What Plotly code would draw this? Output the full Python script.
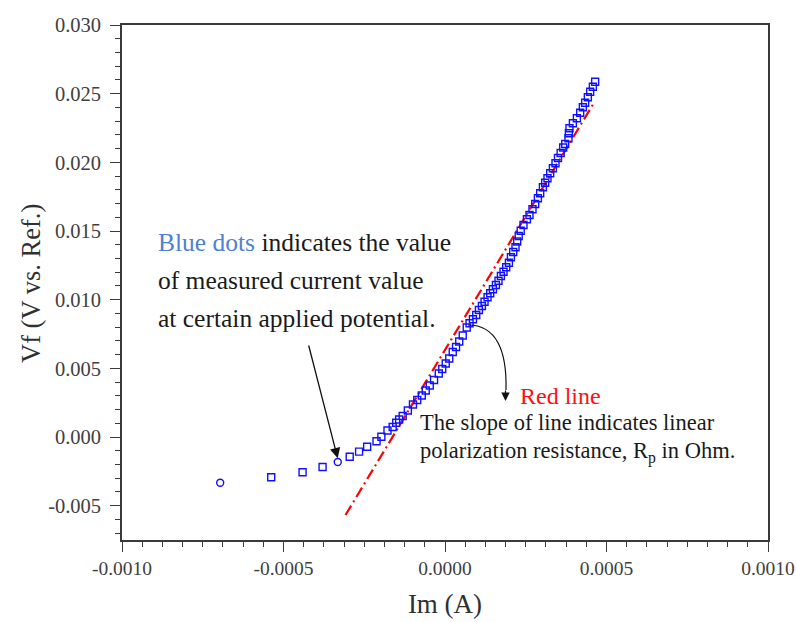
import plotly.graph_objects as go

# ---- data ----
im_a = [-0.000696, -0.000538, -0.000441, -0.000379, -0.000332, -0.000295, -0.000266, -0.000241,
        -0.000212, -0.000197, -0.000178, -0.000162, -0.000151, -0.000142, -0.000131, -0.000115,
        -0.0000992, -0.0000859, -0.0000719, -0.0000596, -0.0000472, -0.0000339, -0.0000193, -0.0000085,
        0.0000023, 0.0000132, 0.0000240, 0.0000342, 0.0000441, 0.0000549, 0.0000673, 0.0000760,
        0.0000865, 0.0000967, 0.0001050, 0.0001143, 0.0001224, 0.0001317, 0.0001400, 0.0001484,
        0.0001576, 0.0001657, 0.0001731, 0.0001812, 0.0001895, 0.0001979, 0.0002041, 0.0002112,
        0.0002183, 0.0002235, 0.0002282, 0.0002344, 0.0002430, 0.0002536, 0.0002616, 0.0002709,
        0.0002792, 0.0002876, 0.0002947, 0.0003031, 0.0003102, 0.0003173, 0.0003257, 0.0003340,
        0.0003421, 0.0003498, 0.0003581, 0.0003659, 0.0003721, 0.0003823, 0.0003835, 0.0003854,
        0.0003959, 0.0004083, 0.0004185, 0.0004268, 0.0004339, 0.0004423, 0.0004494, 0.0004578,
        0.0004649]
vf_v = [-0.003328, -0.002934, -0.002570, -0.002184, -0.001820, -0.001442, -0.001063, -0.000706,
        -0.000306, 0.000022, 0.000473, 0.000728, 0.001041, 0.001274, 0.001529, 0.001930,
        0.002366, 0.002694, 0.003022, 0.003386, 0.003750, 0.004150, 0.004624, 0.004951,
        0.005352, 0.005716, 0.006189, 0.006553, 0.006954, 0.007390, 0.007973, 0.008279,
        0.008570, 0.008883, 0.009247, 0.009538, 0.009852, 0.010172, 0.010463, 0.010754,
        0.011067, 0.011381, 0.011723, 0.012036, 0.012356, 0.012691, 0.013084, 0.013470,
        0.013813, 0.014235, 0.014635, 0.015021, 0.015436, 0.015851, 0.016164, 0.016579,
        0.016965, 0.017380, 0.017744, 0.018181, 0.018516, 0.018837, 0.019201, 0.019565,
        0.019929, 0.020315, 0.020679, 0.021079, 0.021334, 0.021749, 0.022113, 0.022477,
        0.022841, 0.023205, 0.023613, 0.024006, 0.024341, 0.024734, 0.025142, 0.025506,
        0.025870]
circle_idx = [0, 4]

fit_x = [-0.000308, 0.000460]
fit_y = [-0.00568, 0.02429]

x_tickvals = [-0.0010, -0.0005, 0.0, 0.0005, 0.0010]
x_ticktext = ["-0.0010", "-0.0005", "0.0000", "0.0005", "0.0010"]
y_tickvals = [-0.005, 0.0, 0.005, 0.010, 0.015, 0.020, 0.025, 0.030]
y_ticktext = ["-0.005", "0.000", "0.005", "0.010", "0.015", "0.020", "0.025", "0.030"]

# ---- layout geometry ----
W, H = 796, 622
ML, MR, MT, MB = 122, 28, 25, 82
PW, PH = W - ML - MR, H - MT - MB
FONT = "Liberation Serif"
AX = "#3a3a3a"


def px2paper(px, py):
    return (px - ML) / PW, (H - MB - py) / PH


symbols = ["circle-open" if i in circle_idx else "square-open" for i in range(len(im_a))]

fig = go.Figure()
fig.add_trace(go.Scatter(
    x=fit_x, y=fit_y, mode="lines",
    line=dict(color="#ff0000", width=2.2, dash="11px,4px,2px,4px"),
    showlegend=False, hoverinfo="skip"))
fig.add_trace(go.Scatter(
    x=im_a, y=vf_v, mode="markers",
    marker=dict(symbol=symbols, size=7, color="#1010ff", line=dict(color="#1010ff", width=1.4)),
    showlegend=False))

axis_common = dict(
    showline=True, linecolor=AX, linewidth=1.6, mirror=True,
    ticks="outside", tickcolor=AX, tickwidth=1.3,
    showgrid=False, zeroline=False, automargin=True,
    ticklabeloverflow="allow",
)
fig.update_xaxes(
    range=[-0.0010, 0.0010], tickvals=x_tickvals, ticktext=x_ticktext, ticklen=10,
    tickfont=dict(family=FONT, size=19.5, color="#404040"),
    minor=dict(dtick=0.0000625, tick0=-0.001, ticks="outside", ticklen=5, tickcolor=AX, tickwidth=1.2),
    title=dict(text="Im (A)", font=dict(family=FONT, size=27, color="#303030"), standoff=16),
    **axis_common)
fig.update_yaxes(
    range=[-0.0075, 0.030], tickvals=y_tickvals, ticktext=y_ticktext, ticklen=10,
    tickfont=dict(family=FONT, size=20.5, color="#404040"), ticklabelstandoff=5,
    minor=dict(dtick=0.001, tick0=0, ticks="outside", ticklen=5, tickcolor=AX, tickwidth=1.2),
    **axis_common)

ann = []


def text_at(px, py, txt, size, color="#1a1a1a"):
    x, y = px2paper(px, py)
    ann.append(dict(x=x, y=y, xref="paper", yref="paper", text=txt, showarrow=False,
                    xanchor="left", yanchor="middle",
                    font=dict(family=FONT, size=size, color=color)))


# y-axis title
yx, yy = px2paper(31, 284)
ann.append(dict(x=yx, y=yy, xref="paper", yref="paper", text="Vf (V vs. Ref.)", showarrow=False,
                textangle=-90, xanchor="center", yanchor="middle",
                font=dict(family=FONT, size=26.5, color="#303030")))

text_at(156, 242, '<span style="color:#4f7fd2">Blue dots</span> indicates the value', 25.5)
text_at(156, 280, "of measured current value", 25.5)
text_at(156, 318, "at certain applied potential.", 25.5)
text_at(518, 396, "Red line", 24, "#ff1010")
text_at(418, 422, "The slope of line indicates linear", 22.5)
text_at(418, 452, "polarization resistance, R<sub>p</sub> in Ohm.", 22.5)

# straight arrow to the blue dots
tx, ty = px2paper(337.7, 458.3)
ann.append(dict(x=tx, y=ty, xref="paper", yref="paper", ax=308.3 - 337.7, ay=344 - 458.3,
                axref="pixel", ayref="pixel", text="", showarrow=True,
                arrowhead=2, arrowsize=1.6, arrowwidth=1.3, arrowcolor="#111111", standoff=0))
# arrowhead for curved arrow
tx, ty = px2paper(505.5, 401)
ann.append(dict(x=tx, y=ty, xref="paper", yref="paper", ax=0, ay=-12,
                axref="pixel", ayref="pixel", text="", showarrow=True,
                arrowhead=2, arrowsize=1.4, arrowwidth=1.2, arrowcolor="#111111", standoff=0))
fig.update_layout(annotations=ann)

# curved connector
p0 = px2paper(468, 325)
c1 = px2paper(496, 325)
c2 = px2paper(507, 350)
p1 = px2paper(506, 390)
fig.add_shape(type="path", xref="paper", yref="paper",
              path=f"M {p0[0]},{p0[1]} C {c1[0]},{c1[1]} {c2[0]},{c2[1]} {p1[0]},{p1[1]}",
              line=dict(color="#111111", width=1.2))

fig.update_layout(
    width=W, height=H, margin=dict(l=ML, r=MR, t=MT, b=MB, autoexpand=False),
    plot_bgcolor="white", paper_bgcolor="white",
)
fig.write_html("out.html")
